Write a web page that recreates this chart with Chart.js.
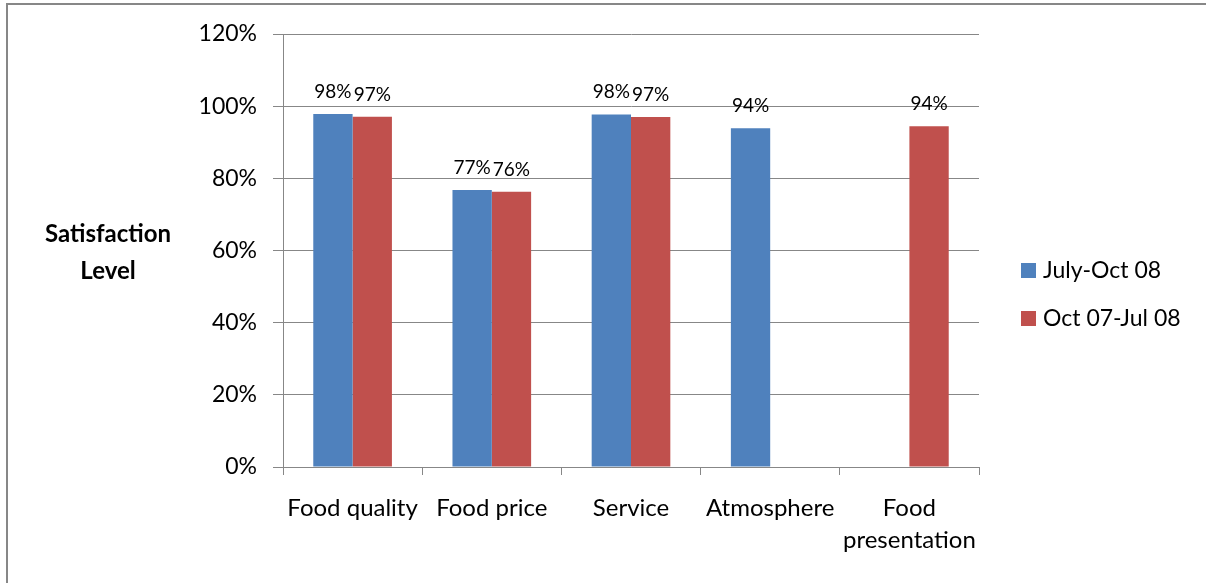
<!DOCTYPE html>
<html>
<head>
<meta charset="utf-8">
<script src="https://cdn.jsdelivr.net/npm/chart.js@4"></script>
<style>
  body { margin: 0; background: #fff; }
  #wrap { position: absolute; left: 0; top: 0; width: 1206px; height: 583px; }
  #frame { position: absolute; left: 6px; top: 3px; width: 1206px; height: 600px;
           border-left: 2px solid #878787; border-top: 2px solid #878787; pointer-events: none; }
</style>
</head>
<body>
<div id="wrap"><canvas id="satChart" width="1206" height="583"></canvas></div>
<div id="frame"></div>
<script>
// --- Chart data ---
const categories = ["Food quality", "Food price", "Service", "Atmosphere", ["Food", "presentation"]];
const seriesNames = ["July-Oct 08", "Oct 07-Jul 08"];
const julyOct08 = [97.8, 76.8, 97.7, 93.9, null];
const oct07Jul08 = [97.1, 76.3, 97.0, null, 94.4];
const yTicks = [0, 20, 40, 60, 80, 100, 120];
const seriesColors = ["#4F81BD", "#C0504D"];

const FONT = "Lato";

// value labels above each bar
const barLabels = {
    id: "barLabels",
    afterDatasetsDraw(chart) {
        const ctx = chart.ctx;
        ctx.save();
        ctx.font = "19px " + FONT;
        ctx.fillStyle = "#000";
        ctx.textAlign = "center";
        ctx.textBaseline = "alphabetic";
        chart.data.datasets.forEach((ds, i) => {
            chart.getDatasetMeta(i).data.forEach((bar, j) => {
                const v = ds.data[j];
                if (v === null) return;
                ctx.fillText(Math.round(v) + "%", bar.x, bar.y - 16);
            });
        });
        ctx.restore();
    }
};

// horizontal axis title + right legend, Excel style
const sideText = {
    id: "sideText",
    afterDraw(chart) {
        const ctx = chart.ctx;
        const area = chart.chartArea;
        ctx.save();
        ctx.fillStyle = "#000";
        ctx.textAlign = "center";
        ctx.textBaseline = "middle";
        ctx.font = "bold 24px " + FONT;
        ctx.fillText("Satisfaction", 108, 234);
        ctx.fillText("Level", 108, 271);

        ctx.textAlign = "left";
        ctx.font = "23px " + FONT;
        chart.data.datasets.forEach((ds, i) => {
            const y = 270 + i * 48;
            ctx.fillStyle = ds.backgroundColor;
            ctx.fillRect(area.right + 42, y - 7, 15, 15);
            ctx.fillStyle = "#000";
            ctx.fillText(ds.label, area.right + 64, y + 1);
        });
        ctx.restore();
    }
};

new Chart(document.getElementById("satChart"), {
    type: "bar",
    data: {
        labels: categories,
        datasets: [
            { label: seriesNames[0], data: julyOct08, backgroundColor: seriesColors[0] },
            { label: seriesNames[1], data: oct07Jul08, backgroundColor: seriesColors[1] }
        ]
    },
    options: {
        responsive: false,
        animation: false,
        layout: { padding: { top: 34, right: 227, left: 0, bottom: 0 } },
        datasets: { bar: { categoryPercentage: 0.565, barPercentage: 1.0, borderWidth: 0 } },
        plugins: { legend: { display: false }, tooltip: { enabled: false } },
        scales: {
            x: {
                offset: true,
                grid: { offset: true, drawOnChartArea: false, drawTicks: true, tickLength: 8, color: "#878787" },
                border: { color: "#878787", width: 1 },
                ticks: { color: "#000", font: { family: FONT, size: 24, lineHeight: 1.33 }, padding: 17, maxRotation: 0, autoSkip: false },
                afterFit: (scale) => { scale.height = 116; }
            },
            y: {
                min: 0,
                max: 120,
                afterBuildTicks: (scale) => { scale.ticks = yTicks.map(v => ({ value: v })); },
                grid: { color: "#878787", tickLength: 10 },
                border: { color: "#878787", width: 1 },
                ticks: { color: "#000", font: { family: FONT, size: 23 }, padding: 16, callback: v => v + "%" },
                afterFit: (scale) => { scale.width = 283; }
            }
        }
    },
    plugins: [barLabels, sideText]
});
</script>
</body>
</html>
